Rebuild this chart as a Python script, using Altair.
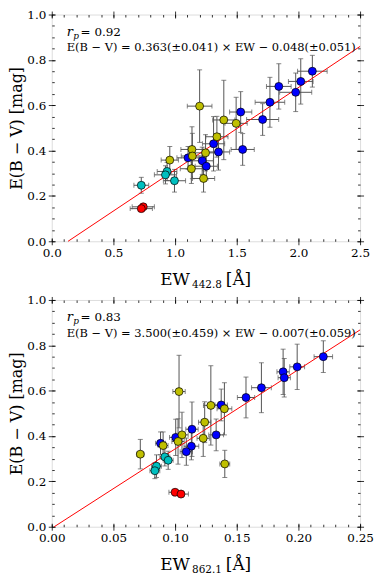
import altair as alt
import pandas as pd

FONT = "DejaVu Serif"
ERR_COLOR = "#555555"

GROUP_NAMES = ["blue", "yellow", "cyan", "red"]
GROUP_COLORS = ["#0000ff", "#bfbf00", "#00bfbf", "#ff0000"]

# E(B-V) per star and its uncertainty (shared by both panels)
ebv_blue = [0.750, 0.705, 0.683, 0.657, 0.613, 0.570, 0.537, 0.430, 0.405, 0.394, 0.368, 0.355, 0.331]
ebv_err_blue = [0.07, 0.10, 0.10, 0.085, 0.11, 0.09, 0.07, 0.12, 0.07, 0.08, 0.05, 0.06, 0.06]
ebv_yellow = [0.596, 0.535, 0.520, 0.461, 0.405, 0.390, 0.376, 0.358, 0.320, 0.277]
ebv_err_yellow = [0.16, 0.175, 0.115, 0.09, 0.10, 0.08, 0.10, 0.06, 0.065, 0.06]
ebv_cyan = [0.308, 0.293, 0.267, 0.247]
ebv_err_cyan = [0.04, 0.04, 0.05, 0.035]
ebv_red = [0.152, 0.144]
ebv_err_red = [0.01, 0.01]

# EW of the 442.8 nm DIB
ew442_blue = [2.113, 2.019, 1.841, 1.978, 1.769, 1.532, 1.710, 1.312, 1.548, 1.352, 1.105, 1.220, 1.253]
ew442_err_blue = [0.12, 0.10, 0.10, 0.13, 0.12, 0.09, 0.13, 0.09, 0.094, 0.09, 0.09, 0.09, 0.09]
ew442_yellow = [1.199, 1.395, 1.495, 1.339, 1.137, 1.247, 1.140, 0.957, 1.132, 1.231]
ew442_err_yellow = [0.10, 0.09, 0.09, 0.09, 0.09, 0.09, 0.09, 0.07, 0.09, 0.09]
ew442_cyan = [0.935, 0.922, 0.995, 0.726]
ew442_err_cyan = [0.08, 0.09, 0.09, 0.06]
ew442_red = [0.742, 0.726]
ew442_err_red = [0.09, 0.09]

# EW of the 862.1 nm DIB
ew862_blue = [0.2202, 0.1990, 0.1876, 0.1885, 0.1700, 0.1575, 0.1374, 0.1137, 0.1333, 0.1005, 0.0882, 0.1132, 0.1091]
ew862_err_blue = [0.0075, 0.006, 0.005, 0.005, 0.008, 0.007, 0.005, 0.005, 0.006, 0.005, 0.004, 0.006, 0.005]
ew862_yellow = [0.1032, 0.1290, 0.1400, 0.1240, 0.1056, 0.1228, 0.1024, 0.0903, 0.0718, 0.1403]
ew862_err_yellow = [0.005, 0.006, 0.006, 0.005, 0.005, 0.005, 0.005, 0.004, 0.003, 0.004]
ew862_cyan = [0.0917, 0.0944, 0.0849, 0.0836]
ew862_err_cyan = [0.004, 0.004, 0.004, 0.004]
ew862_red = [0.1000, 0.1048]
ew862_err_red = [0.005, 0.006]

fit442 = (0.363, -0.048)
fit862 = (3.500, -0.007)

EBV = [ebv_blue, ebv_yellow, ebv_cyan, ebv_red]
EBV_ERR = [ebv_err_blue, ebv_err_yellow, ebv_err_cyan, ebv_err_red]


def build_df(ews, ew_errs):
    rows = []
    for g, ew, ewe, e, ee in zip(GROUP_NAMES, ews, ew_errs, EBV, EBV_ERR):
        for a, b, c, d in zip(ew, ewe, e, ee):
            rows.append({"g": g, "ew": a, "xlo": a - b, "xhi": a + b,
                         "e": c, "elo": c - d, "ehi": c + d})
    return pd.DataFrame(rows)


def ax(orient, values, size, offset, labels=False, fmt=None, title=None, pad=2):
    kw = dict(orient=orient, values=values, tickSize=size, offset=offset,
              domain=False, grid=False, ticks=True, tickColor="black",
              tickWidth=0.8, labels=labels)
    if labels:
        kw.update(format=fmt, labelFont=FONT, labelFontSize=12,
                  labelColor="black", labelPadding=pad, labelFlush=False,
                  labelOverlap=False)
    if title:
        kw.update(title=title, titleFont=FONT, titleFontSize=16,
                  titleFontWeight="normal", titleColor="black", titlePadding=2)
    return alt.Axis(**kw)


def text_layer(txt, x, y, size, style="normal", align="left"):
    return alt.Chart(pd.DataFrame({"t": [txt]})).mark_text(
        align=align, baseline="alphabetic", font=FONT, fontSize=size,
        fontStyle=style, color="black"
    ).encode(x=alt.value(x), y=alt.value(y), text="t:N")


def panel(ews, ew_errs, xmax, xmajor, xminor, xfmt, fit, r_txt, eq_txt, sub):
    df = build_df(ews, ew_errs)
    slope, icpt = fit
    x0 = max(0.0, -icpt / slope)
    line_df = pd.DataFrame({"x": [x0, xmax], "y": [slope * x0 + icpt, slope * xmax + icpt]})

    xs = alt.Scale(domain=[0, xmax], nice=False, zero=False)
    ys = alt.Scale(domain=[0, 1], nice=False, zero=False)
    ymajor = [0, 0.2, 0.4, 0.6, 0.8, 1.0]
    yminor = [round(i * 0.05, 2) for i in range(21)]

    base = alt.Chart(df)
    xerr = base.mark_rule(color=ERR_COLOR, strokeWidth=1).encode(
        x=alt.X("xlo:Q", scale=xs, axis=ax("bottom", xmajor, 7, -3.5, True, xfmt, pad=2.5), title=None),
        x2="xhi:Q",
        y=alt.Y("e:Q", scale=ys, axis=ax("left", ymajor, 7, -3.5, True, ".1f", "E(B − V) [mag]", pad=2.5)),
    )
    yerr = base.mark_rule(color=ERR_COLOR, strokeWidth=1).encode(
        x=alt.X("ew:Q", scale=xs, axis=ax("bottom", xminor, 2.5, -2.5), title=None),
        y=alt.Y("elo:Q", scale=ys, axis=ax("left", yminor, 2.5, -2.5), title=None),
        y2="ehi:Q",
    )
    xcap_lo = base.mark_tick(orient="vertical", size=5, thickness=1, color=ERR_COLOR).encode(
        x=alt.X("xlo:Q", scale=xs, axis=ax("top", xmajor, 7, -3.5), title=None),
        y=alt.Y("e:Q", scale=ys, axis=ax("right", ymajor, 7, -3.5), title=None),
    )
    xcap_hi = base.mark_tick(orient="vertical", size=5, thickness=1, color=ERR_COLOR).encode(
        x=alt.X("xhi:Q", scale=xs, axis=ax("top", xminor, 2.5, -2.5), title=None),
        y=alt.Y("e:Q", scale=ys, axis=ax("right", yminor, 2.5, -2.5), title=None),
    )
    ycap_lo = base.mark_tick(orient="horizontal", size=5, thickness=1, color=ERR_COLOR).encode(
        x=alt.X("ew:Q", scale=xs, axis=None),
        y=alt.Y("elo:Q", scale=ys, axis=None),
    )
    ycap_hi = base.mark_tick(orient="horizontal", size=5, thickness=1, color=ERR_COLOR).encode(
        x=alt.X("ew:Q", scale=xs, axis=None),
        y=alt.Y("ehi:Q", scale=ys, axis=None),
    )
    line = alt.Chart(line_df).mark_line(color="#ff0000", strokeWidth=1).encode(
        x=alt.X("x:Q", scale=xs, axis=None),
        y=alt.Y("y:Q", scale=ys, axis=None),
    )
    pts = base.mark_point(filled=True, size=64, stroke="black", strokeWidth=0.7,
                          fillOpacity=1, opacity=1).encode(
        x=alt.X("ew:Q", scale=xs, axis=None),
        y=alt.Y("e:Q", scale=ys, axis=None),
        fill=alt.Fill("g:N", scale=alt.Scale(domain=GROUP_NAMES, range=GROUP_COLORS), legend=None),
    )
    texts = [
        text_layer("r", 15, 21.5, 13, "italic"),
        text_layer("p", 21.5, 24.5, 9, "italic"),
        text_layer("= " + r_txt, 29, 21.5, 12),
        text_layer(eq_txt, 15, 37, 11.5),
        text_layer("EW", 109, 271.5, 17),
        text_layer(sub, 141, 274.5, 10.5),
        text_layer("[Å]", 175, 271.5, 17),
    ]
    return alt.layer(xerr, yerr, xcap_lo, xcap_hi, ycap_lo, ycap_hi, line, pts, *texts).properties(
        width=310, height=228
    ).resolve_axis(x="independent", y="independent")


top = panel([ew442_blue, ew442_yellow, ew442_cyan, ew442_red],
            [ew442_err_blue, ew442_err_yellow, ew442_err_cyan, ew442_err_red],
            2.5, [0, 0.5, 1.0, 1.5, 2.0, 2.5], [round(i * 0.1, 2) for i in range(26)], ".1f",
            fit442, "0.92", "E(B − V) = 0.363(±0.041) × EW − 0.048(±0.051)", "442.8")
bottom = panel([ew862_blue, ew862_yellow, ew862_cyan, ew862_red],
               [ew862_err_blue, ew862_err_yellow, ew862_err_cyan, ew862_err_red],
               0.25, [0, 0.05, 0.10, 0.15, 0.20, 0.25], [round(i * 0.01, 2) for i in range(26)], ".2f",
               fit862, "0.83", "E(B − V) = 3.500(±0.459) × EW − 0.007(±0.059)", "862.1")

chart = alt.vconcat(top, bottom, spacing=2).properties(
    padding={"top": -2, "left": 0, "right": 0, "bottom": 0}
).configure_view(stroke="black", strokeWidth=1).configure(background="white")

chart.save("out.html", embed_options={"renderer": "svg", "actions": False})
